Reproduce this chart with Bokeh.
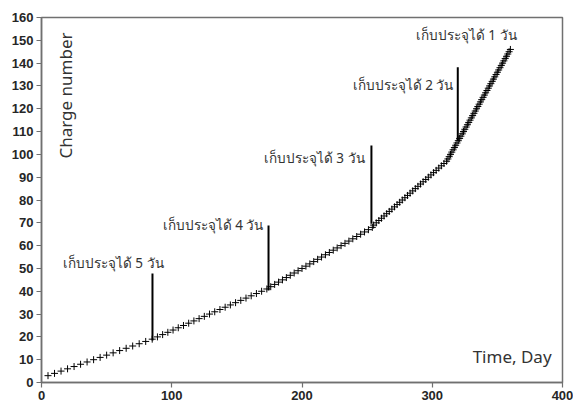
from math import pi
from bokeh.plotting import figure
from bokeh.models import Range1d, FixedTicker, Label, ColumnDataSource
from bokeh.core.properties import value
from bokeh.embed import file_html
from bokeh.resources import INLINE

# ---- data ----
days = [5, 10, 15, 20, 25, 30, 35, 40, 45, 50, 55, 60, 65, 70, 75, 80, 85,
        89, 93, 97, 101, 105, 109, 113, 117, 121, 125, 129, 133, 137, 141, 145, 149, 153, 157, 161, 165, 169, 173,
        176, 179, 182, 185, 188, 191, 194, 197, 200, 203, 206, 209, 212, 215, 218, 221, 224, 227, 230, 233, 236,
        239, 242, 245, 248, 251, 254,
        255, 257, 259, 261, 263, 265, 267, 269, 271, 273, 275, 277, 279, 281, 283, 285, 287, 289, 291, 293, 295,
        297, 299, 301, 303, 305, 307, 309, 311,
        312, 313, 314, 315, 316, 317, 318, 319, 320, 321, 322, 323, 324, 325, 326, 327, 328, 329, 330, 331, 332,
        333, 334, 335, 336, 337, 338, 339, 340, 341, 342, 343, 344, 345, 346, 347, 348, 349, 350, 351, 352, 353,
        354, 355, 356, 357, 358, 359, 360]
charge = [3, 4, 5, 6, 7, 8, 9, 10, 11, 12, 13, 14, 15, 16, 17, 18, 19,
          20, 21, 22, 23, 24, 25, 26, 27, 28, 29, 30, 31, 32, 33, 34, 35, 36, 37, 38, 39, 40, 41,
          42, 43, 44, 45, 46, 47, 48, 49, 50, 51, 52, 53, 54, 55, 56, 57, 58, 59, 60, 61, 62,
          63, 64, 65, 66, 67, 68,
          69, 70, 71, 72, 73, 74, 75, 76, 77, 78, 79, 80, 81, 82, 83, 84, 85, 86, 87, 88, 89,
          90, 91, 92, 93, 94, 95, 96, 97,
          98, 99, 100, 101, 102, 103, 104, 105, 106, 107, 108, 109, 110, 111, 112, 113, 114, 115, 116, 117, 118,
          119, 120, 121, 122, 123, 124, 125, 126, 127, 128, 129, 130, 131, 132, 133, 134, 135, 136, 137, 138, 139,
          140, 141, 142, 143, 144, 145, 146]

marker_x = [85.2, 174.3, 253.3, 319.6]
marker_y0 = [18.4, 40.3, 69.6, 106.0]
marker_y1 = [47.8, 68.8, 103.9, 138.2]

label_texts = ["เก็บประจุได้ 5 วัน", "เก็บประจุได้ 4 วัน", "เก็บประจุได้ 3 วัน",
               "เก็บประจุได้ 2 วัน", "เก็บประจุได้ 1 วัน"]
label_x = [93.7, 170.4, 248.0, 316.3, 364.7]
label_y = [52.4, 69.0, 98.4, 130.4, 152.2]

x_ticks = [0, 100, 200, 300, 400]
y_ticks = [0, 10, 20, 30, 40, 50, 60, 70, 80, 90, 100, 110, 120, 130, 140, 150, 160]

AXIS = "#707070"
TXT = "#333333"

p = figure(width=573, height=405, output_backend="svg", toolbar_location=None,
           x_range=Range1d(0, 400), y_range=Range1d(0, 160),
           min_border_left=41, min_border_right=11, min_border_top=17, min_border_bottom=23)
p.xgrid.visible = False
p.ygrid.visible = False
p.outline_line_color = AXIS
p.outline_line_width = 1.5
p.background_fill_color = "white"
p.border_fill_color = "white"

for ax, ticks in ((p.xaxis[0], x_ticks), (p.yaxis[0], y_ticks)):
    ax.ticker = FixedTicker(ticks=ticks)
    ax.axis_line_color = AXIS
    ax.axis_line_width = 1.5
    ax.major_tick_line_color = AXIS
    ax.major_tick_line_width = 1.2
    ax.major_tick_out = 5
    ax.major_tick_in = 0
    ax.minor_tick_line_color = None
    ax.major_label_text_font = "Liberation Sans"
    ax.major_label_text_font_size = "13px"
    ax.major_label_text_font_style = "bold"
    ax.major_label_text_color = "#262626"
    ax.major_label_standoff = 3

src = ColumnDataSource(dict(x=days, y=charge))
p.scatter("x", "y", source=src, marker="cross", size=7, line_color="black", line_width=1)

p.segment(x0=marker_x, y0=marker_y0, x1=marker_x, y1=marker_y1, line_color="black", line_width=2)

p.text(x=label_x, y=label_y, text=label_texts, text_align="right", text_baseline="alphabetic",
       text_font=value("Noto Sans"), text_font_size="13.5px", text_color=TXT)

p.add_layout(Label(x=18.4, y=125.8, text="Charge number", angle=pi / 2, text_align="center",
                   text_baseline="middle", text_font="Noto Sans", text_font_size="17px", text_color=TXT))
p.add_layout(Label(x=391.6, y=11.4, text="Time, Day", text_align="right",
                   text_baseline="middle", text_font="Noto Sans", text_font_size="17px", text_color=TXT))

open("out.html", "w").write(file_html(p, INLINE))
